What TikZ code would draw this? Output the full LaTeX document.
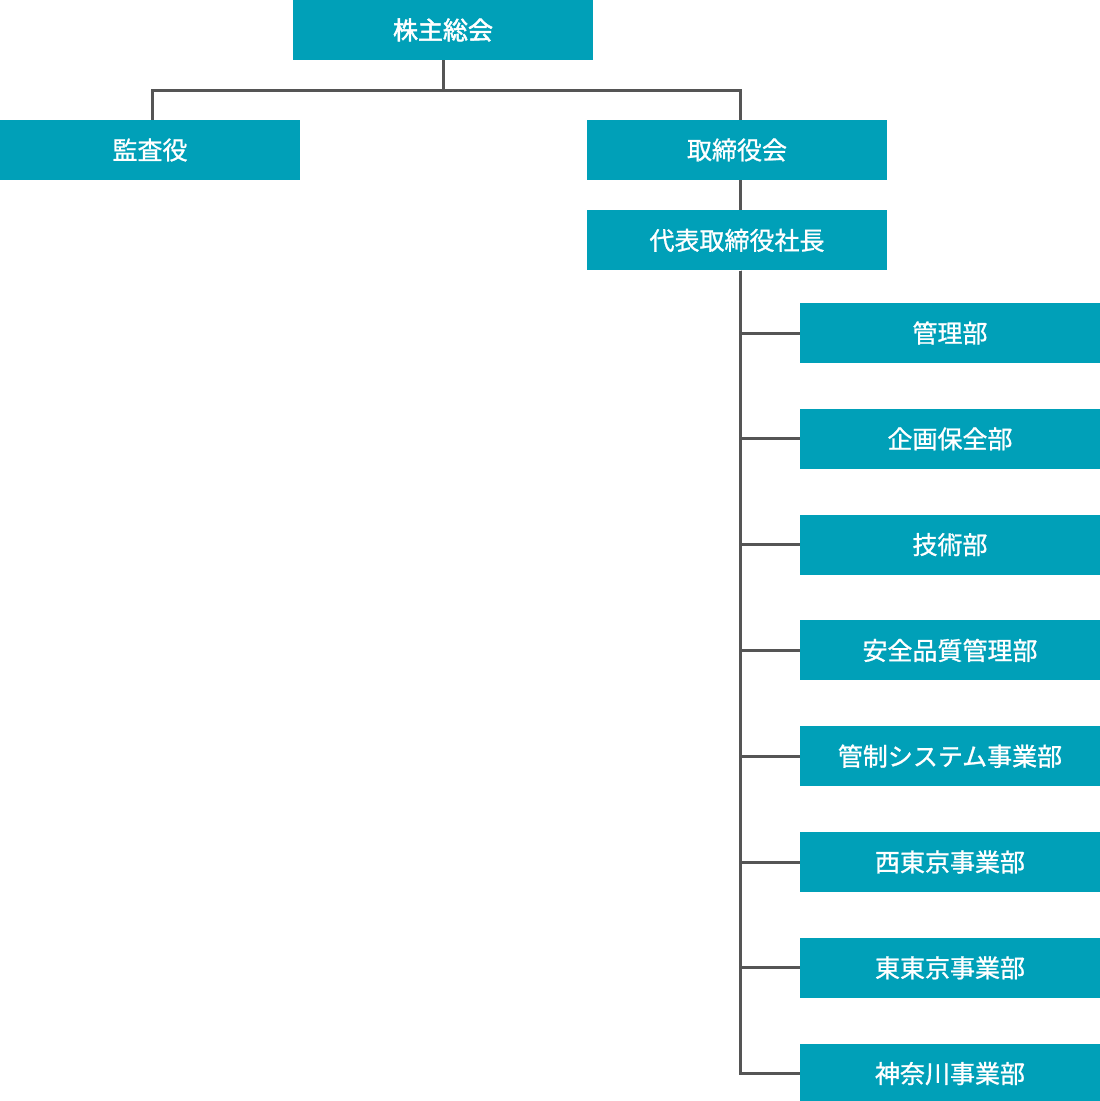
\documentclass[tikz,border=0pt]{standalone}
\usepackage{fontspec}
\setmainfont{Noto Sans CJK JP}
\newfontfamily\medfont[FakeBold=1]{Noto Sans CJK JP}
\newfontfamily\headfont[FakeBold=2]{Noto Sans CJK JP}
\usepackage{xcolor}
\usepackage{tikz}
\usetikzlibrary{positioning,calc}

\definecolor{boxteal}{HTML}{00A0B8}
\definecolor{linegray}{HTML}{555555}

\begin{document}
\begin{tikzpicture}[x=1pt, y=-1pt, node distance=45.4pt,
    orgbox/.style={fill=boxteal, text=white, minimum width=300pt, minimum height=60pt, inner sep=0pt, font=\medfont\fontsize{25}{25}\selectfont},
    orgline/.style={draw=linegray, line width=3pt}]
    \useasboundingbox (0,0) rectangle (1100,1101);

    \node [orgbox, font=\headfont\fontsize{25}{25}\selectfont] (kabunushi) at (443,30) {株主総会};
    \node [orgbox] (kansa) at (150,150) {監査役};
    \node [orgbox] (torishimari) at (737,150) {取締役会};
    \node [orgbox, below=30pt of torishimari] (shacho) {代表取締役社長};

    \node [orgbox] (kanri) at (950,333) {管理部};
    \node [orgbox, below=of kanri] (kikaku) {企画保全部};
    \node [orgbox, below=of kikaku] (gijutsu) {技術部};
    \node [orgbox, below=of gijutsu] (anzen) {安全品質管理部};
    \node [orgbox, below=of anzen] (kansei) {管制システム事業部};
    \node [orgbox, below=of kansei] (nishi) {西東京事業部};
    \node [orgbox, below=of nishi] (higashi) {東東京事業部};
    \node [orgbox, below=of higashi] (kanagawa) {神奈川事業部};

    % lines sit a little right of the box centres
    \draw [orgline] (kabunushi.south) -- ++(0,30) -| ([xshift=2pt]kansa.north);
    \draw [orgline] (kabunushi.south) -- ++(0,30) -| ([xshift=3pt]torishimari.north);
    \draw [orgline] ([xshift=3pt]torishimari.south) -- ([xshift=3pt]shacho.north);

    \foreach \dept in {kanri,kikaku,gijutsu,anzen,kansei,nishi,higashi,kanagawa}
        \draw [orgline] ([xshift=3pt]shacho.south) |- (\dept.west);
\end{tikzpicture}
\end{document}
